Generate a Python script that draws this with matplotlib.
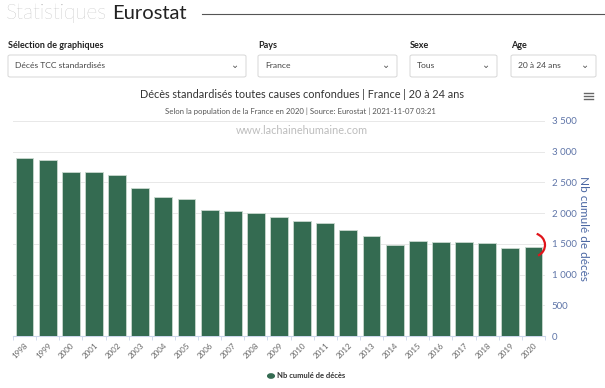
import numpy as np
import matplotlib
matplotlib.use("Agg")
import matplotlib.pyplot as plt
from matplotlib.patches import FancyBboxPatch, Arc, Circle
from matplotlib.lines import Line2D

plt.rcParams['font.family'] = ['Lato', 'DejaVu Sans']

years = [str(y) for y in range(1998, 2021)]
deaths = [2900, 2860, 2665, 2675, 2625, 2405, 2265, 2230, 2050, 2032, 2005,
          1945, 1868, 1835, 1727, 1623, 1487, 1547, 1531, 1527, 1520, 1433, 1449]
yticks = [0, 500, 1000, 1500, 2000, 2500, 3000, 3500]
ytick_labels = ["0", "500", "1 000", "1 500", "2 000", "2 500", "3 000", "3 500"]

W, H = 605, 388
BAR = "#346b51"
fig = plt.figure(figsize=(W / 100, H / 100), dpi=100)


def fx(x):
    return x / W


def fy(y):
    return 1 - y / H


def ftext(x, y, s, **kw):
    kw.setdefault("va", "center")
    return fig.text(fx(x), fy(y), s, **kw)


# page header
ftext(6, 19, "Statistiques", fontsize=15, color="#a0a0a0", fontweight="light", va="baseline")
ftext(112, 19, "Eurostat", fontsize=14.5, color="#222222", va="baseline")
fig.add_artist(Line2D([fx(202), fx(605)], [fy(14), fy(14)], color="#555555", lw=0.8))

# selectors
selectors = [
    ("Sélection de graphiques", "Décés TCC standardisés", 8, 246),
    ("Pays", "France", 258, 397),
    ("Sexe", "Tous", 410, 497),
    ("Age", "20 à 24 ans", 511, 596),
]
for lab, val, x0, x1 in selectors:
    ftext(x0, 46, lab, fontsize=6.5, fontweight="bold", color="#222222")
    box = FancyBboxPatch((fx(x0), fy(77)), fx(x1 - x0), (77 - 55) / H,
                         boxstyle="round,pad=0,rounding_size=0.004",
                         transform=fig.transFigure, facecolor="white",
                         edgecolor="#d6d6d6", lw=0.7)
    fig.add_artist(box)
    ftext(x0 + 7, 66, val, fontsize=6.1, color="#444444")
    ftext(x1 - 11, 65, "⌄", fontsize=7, color="#555555", ha="center", family="DejaVu Sans")

# chart titles
ftext(302, 94, "Décès standardisés toutes causes confondues | France | 20 à 24 ans",
      fontsize=7.8, color="#333333", ha="center")
ftext(300, 111, "Selon la population de la France en 2020 | Source: Eurostat | 2021-11-07 03:21",
      fontsize=5.6, color="#555555", ha="center")
for yy in (93, 96, 99):
    fig.add_artist(Line2D([fx(584), fx(593)], [fy(yy), fy(yy)], color="#666666", lw=1.0))

# plot area
ax = fig.add_axes([fx(13), fy(336), fx(545 - 13), (336 - 121) / H])
x = np.arange(len(years))
ax.bar(x, deaths, width=0.77, color=BAR, edgecolor="#c9d9cf", linewidth=0.6, zorder=3)
ax.set_xlim(-0.5, len(years) - 0.5)
ax.set_ylim(0, 3500)
ax.yaxis.tick_right()
ax.set_yticks(yticks)
ax.set_yticklabels(ytick_labels, fontsize=7, color="#5f75a8")
ax.tick_params(axis="y", length=0, pad=5)
ax.yaxis.set_label_position("right")
ax.set_ylabel("Nb cumulé de décès", rotation=270, fontsize=8.5, color="#4b67a3", labelpad=9)
ax.grid(axis="y", color="#e8e8e8", lw=0.7, zorder=0)
ax.set_xticks(x)
ax.set_xticklabels(years, rotation=45, ha="right", rotation_mode="anchor",
                   fontsize=5.8, color="#666666")
ax.set_xticks(np.arange(len(years) + 1) - 0.5, minor=True)
ax.tick_params(axis="x", which="major", length=0, pad=4)
ax.tick_params(axis="x", which="minor", length=3, color="#ccd6eb")
for side in ("top", "left", "right"):
    ax.spines[side].set_visible(False)
ax.spines["bottom"].set_color("#ccd6eb")

# watermark
ftext(302, 131, "www.lachainehumaine.com", fontsize=7.8, color="#bdbdbd", ha="center")

# red hand-drawn mark
fig.add_artist(Arc((fx(532), fy(245)), fx(26), 24 / H, angle=0, theta1=-70, theta2=75,
                   transform=fig.transFigure, color="#e0141a", lw=1.6))

# legend
fig.add_artist(Circle((fx(271), fy(376)), 0.0055, transform=fig.transFigure, color=BAR))
ftext(277, 376, "Nb cumulé de décès", fontsize=5.5, fontweight="bold", color="#333333")

fig.savefig("out.png", dpi=100)
